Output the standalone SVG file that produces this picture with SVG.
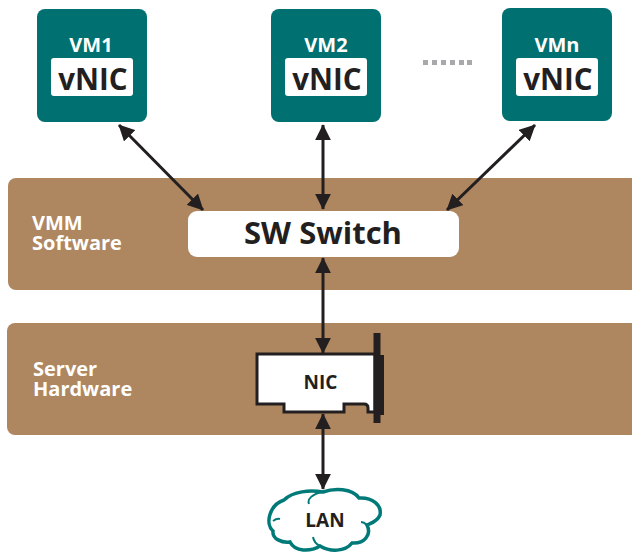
<svg xmlns="http://www.w3.org/2000/svg" width="632" height="552" viewBox="0 0 632 552">
<defs>
<marker id="ah" viewBox="0 0 10 10" refX="9.500" refY="5" markerWidth="16" markerHeight="16" markerUnits="userSpaceOnUse" orient="auto-start-reverse"><path d="M0 0L10 5L0 10Z" fill="#231f20"/></marker>
</defs>
<style>
text{font-family:"Open Sans","Noto Sans","Liberation Sans",sans-serif;font-weight:700;text-anchor:middle}
.vm{fill:#007070}
.w{fill:#fff}
.band{fill:#ae8760}
.vt{fill:#fff;font-size:20px}
.nt{fill:#231f20;font-size:29.500px}
.bt{fill:#fff;font-size:20px;text-anchor:start}
.c{stroke:#231f20;stroke-width:3;fill:none;marker-start:url(#ah);marker-end:url(#ah)}
.d{fill:#a9a9ab}
</style>
<g id="vmm-software"><rect class="band" x="8" y="178" width="640" height="112" rx="8"/><text class="bt" y="230"><tspan x="32">VMM</tspan><tspan x="32" dy="20">Software</tspan></text></g>
<g id="server-hardware"><rect class="band" x="7" y="323" width="640" height="112" rx="8"/><text class="bt" y="376"><tspan x="33">Server</tspan><tspan x="33" dy="20">Hardware</tspan></text></g>
<g id="vm1"><rect class="vm" x="37" y="9" width="110" height="113" rx="8"/><rect class="w" x="51" y="58" width="82" height="38" rx="3"/><text class="vt" x="91" y="52">VM1</text><text class="nt" x="93" y="90">vNIC</text></g>
<g id="vm2"><rect class="vm" x="271" y="9" width="110" height="113" rx="8"/><rect class="w" x="285" y="58" width="82" height="38" rx="3"/><text class="vt" x="326" y="52">VM2</text><text class="nt" x="327" y="90">vNIC</text></g>
<g id="vmn"><rect class="vm" x="502" y="8" width="110" height="113" rx="8"/><rect class="w" x="516" y="58" width="82" height="38" rx="3"/><text class="vt" x="557" y="52">VMn</text><text class="nt" x="558" y="90">vNIC</text></g>
<g id="dots"><rect class="d" x="423" y="60" width="5" height="5"/><rect class="d" x="432" y="60" width="5" height="5"/><rect class="d" x="441" y="60" width="5" height="5"/><rect class="d" x="450" y="60" width="5" height="5"/><rect class="d" x="459" y="60" width="5" height="5"/><rect class="d" x="467" y="60" width="5" height="5"/></g>
<g id="sw-switch"><rect class="w" x="188" y="211" width="271" height="46" rx="9"/><text x="323" y="244" fill="#231f20" font-size="31">SW Switch</text></g>
<g id="nic"><path d="M257 354H375V412H368V408Q368 404 364 404H344V412H284V404H257Z" fill="#fff" stroke="#231f20" stroke-width="3"/><rect x="373.500" y="333" width="7" height="90" fill="#231f20"/><rect x="380" y="355" width="4" height="60" fill="#231f20"/><text x="320.500" y="389" fill="#231f20" font-size="19">NIC</text></g>
<g id="lan"><path d="M273 531C265 524 269 505 284 500C293 491 310 490 323 492C334 488 352 488 359 498C372 497 382 505 380 515C377 522 371 523 367 525C372 535 364 544 352 543C345 552 330 552 320 546C310 552 295 552 290 542C282 543 272 539 273 531Z" fill="#fff" stroke="#007a78" stroke-width="3.500"/><path d="M323 492C312 494 307 499 309 504M273 521Q277 518 280 519M367 525Q364 522 361 522M320 546Q314 543 313 537" fill="none" stroke="#007a78" stroke-width="2"/><text x="325" y="527" fill="#231f20" font-size="19">LAN</text></g>
<g id="connectors">
<line class="c" x1="119" y1="125" x2="203" y2="210"/>
<line class="c" x1="323" y1="125" x2="323" y2="209"/>
<line class="c" x1="535" y1="125" x2="447" y2="210"/>
<line class="c" x1="323" y1="258" x2="323" y2="353"/>
<line class="c" x1="323" y1="414" x2="323" y2="489"/>
</g>
</svg>
